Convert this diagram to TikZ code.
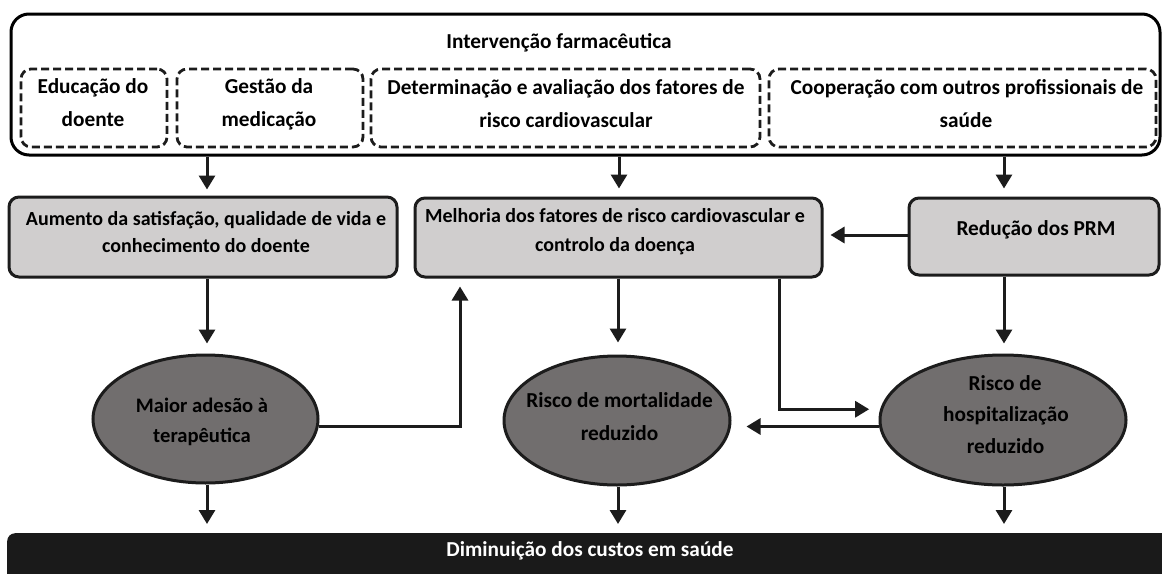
\documentclass[tikz,border=0pt]{standalone}
\usepackage{fontspec}
\setmainfont{Carlito}
\usetikzlibrary{arrows.meta,shapes.geometric}
\definecolor{boxgray}{HTML}{D0CECE}
\definecolor{ellgray}{HTML}{716E6E}
\definecolor{barblack}{HTML}{1A1A1A}
\definecolor{linek}{HTML}{1C1C1C}
\begin{document}
\begin{tikzpicture}[x=1pt,y=-1pt,
  txt/.style={font=\bfseries\fontsize{21.3}{24}\selectfont, inner sep=0pt, anchor=base, text=black},
  txtsm/.style={txt, font=\bfseries\fontsize{20}{24}\selectfont},
  txtmd/.style={txt, font=\bfseries\fontsize{20.6}{24}\selectfont},
  outerbox/.style={draw=black, line width=3pt, rounded corners=18pt, inner sep=0pt},
  dashbox/.style={draw=linek, line width=2.8pt, dash pattern=on 8pt off 4pt, rounded corners=10pt, minimum height=78pt, inner sep=0pt},
  graybox/.style={draw=linek, fill=boxgray, line width=3pt, rounded corners=10pt, inner sep=0pt},
  ellnode/.style={ellipse, draw=linek, fill=ellgray, line width=3pt, inner sep=0pt},
  arr/.style={draw=linek, line width=3pt, -{Triangle[length=14pt,width=16pt]}, shorten >=8pt},
]
\path[use as bounding box, clip] (0,0) rectangle (1162,573);
\fill[white] (0,0) rectangle (1162,573);

% top container
\node[outerbox, minimum width=1149pt, minimum height=141pt] (outer) at (585.5,84.5) {};
\node[dashbox, minimum width=146pt] (d1) at (94,108) {};
\node[dashbox, minimum width=186pt] (d2) at (270,108) {};
\node[dashbox, minimum width=389pt] (d3) at (565.5,108) {};
\node[dashbox, minimum width=387pt] (d4) at (962.5,108) {};

% middle boxes
\node[graybox, minimum width=388pt, minimum height=80pt] (aum) at (203,237) {};
\node[graybox, minimum width=407pt, minimum height=79pt] (mel) at (618.5,237.5) {};
\node[graybox, minimum width=250pt, minimum height=77pt] (red) at (1034,236.5) {};

% ellipses
\node[ellnode, minimum width=225pt, minimum height=128pt] (e1) at (205.5,419) {};
\node[ellnode, minimum width=226pt, minimum height=129pt] (e2) at (617,420.5) {};
\node[ellnode, minimum width=246pt, minimum height=130pt] (e3) at (1003,420) {};

% bottom bar
\node[fill=barblack, rounded corners=8pt, minimum width=1170pt, minimum height=60pt, inner sep=0pt, anchor=north west] (bar) at (7,533) {};

% texts
\node[txt] (tt) at (559,48) {Intervenção farmacêutica};
\node[txt] (t1a) at (93,93) {Educação do};
\node[txt] (t1b) at (93,126) {doente};
\node[txt] (t2a) at (269,93) {Gestão da};
\node[txt] (t2b) at (269,126) {medicação};
\node[txt] (t3a) at (566,94) {Determinação e avaliação dos fatores de};
\node[txt] (t3b) at (566,127) {risco cardiovascular};
\node[txt] (t4a) at (967,94) {Cooperação com outros profissionais de};
\node[txt] (t4b) at (966,127) {saúde};
\node[txtsm] (t5a) at (206,225) {Aumento da satisfação, qualidade de vida e};
\node[txtsm] (t5b) at (206,252) {conhecimento do doente};
\node[txtsm] (t6a) at (615,222) {Melhoria dos fatores de risco cardiovascular e};
\node[txtsm] (t6b) at (615,251) {controlo da doença};
\node[txt] (t7) at (1036,235) {Redução dos PRM};
\node[txtmd] (t8a) at (202,412) {Maior adesão à};
\node[txtmd] (t8b) at (202,442) {terapêutica};
\node[txt] (t9a) at (619.5,407) {Risco de mortalidade};
\node[txt] (t9b) at (619.5,440) {reduzido};
\node[txt] (t10a) at (1005,390) {Risco de};
\node[txt] (t10b) at (1006,421) {hospitalização};
\node[txt] (t10c) at (1005.5,453) {reduzido};
\node[txt, text=white] (t11) at (590,556) {Diminuição dos custos em saúde};

% connectors
\draw[arr, shorten >=6pt] (outer.south -| 207,0) -- (aum.north -| 207,0);
\draw[arr] (outer.south -| 619,0) -- (mel.north -| 619,0);
\draw[arr] (outer.south -| 1004,0) -- (red.north -| 1004,0);
\draw[arr, shorten >=10pt] (aum.south -| 207,0) -- (e1.north -| 207,0);
\draw[arr, shorten >=12pt] (mel.south -| 618,0) -- (e2.north -| 618,0);
\draw[arr, shorten >=10pt] (red.south -| 1004,0) -- (e3.north -| 1004,0);
\draw[arr, shorten >=9pt] (e1.south -| 207,0) -- (bar.north -| 207,0);
\draw[arr, shorten >=9pt] (e2.south -| 618,0) -- (bar.north -| 618,0);
\draw[arr, shorten >=9pt] (e3.south -| 1004,0) -- (bar.north -| 1004,0);
\draw[arr, shorten >=7pt] (red.west |- 0,235) -- (mel.east |- 0,235);
\draw[arr, shorten >=11pt] (mel.south -| 779,0) |- (e3.175.8);
\draw[arr, shorten >=15pt] (e3.183.3) -- (e3.183.3 -| e2.east);
\draw[arr] (e1.-4.1) -| (mel.south -| 460,0);
\end{tikzpicture}
\end{document}
